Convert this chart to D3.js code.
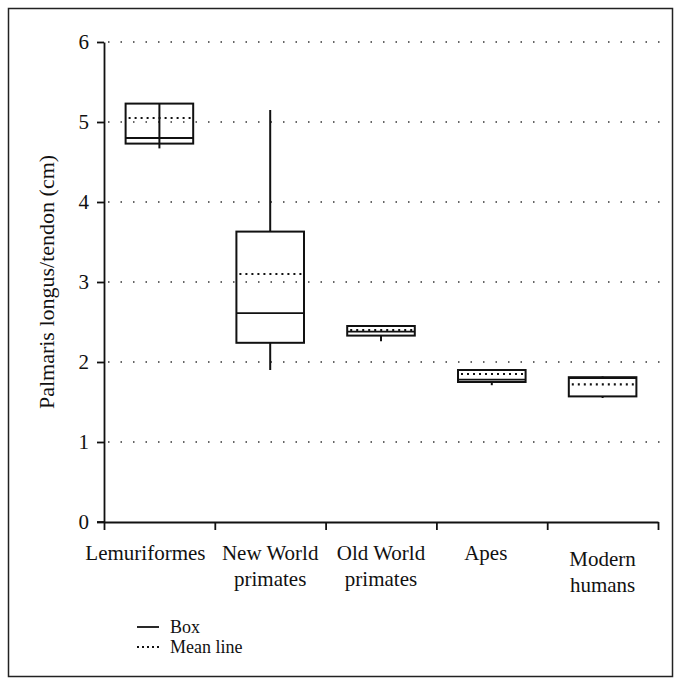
<!DOCTYPE html>
<html>
<head>
<meta charset="utf-8">
<script src="https://cdn.jsdelivr.net/npm/d3@7"></script>
<style>
  body { margin: 0; background: #fff; }
  svg text { font-family: "Liberation Serif", "DejaVu Serif", serif; fill: #111; }
</style>
</head>
<body>
<div id="chart"></div>
<script>
// Groups and their label lines
const groups = ["Lemuriformes", "New World primates", "Old World primates", "Apes", "Modern humans"];
const groupLabels = [["Lemuriformes"], ["New World", "primates"], ["Old World", "primates"], ["Apes"], ["Modern", "humans"]];

// Box plot statistics (cm)
const minVals    = [4.67, 1.90, 2.26, 1.71, 1.55];
const q1Vals     = [4.73, 2.24, 2.33, 1.75, 1.57];
const medianVals = [4.80, 2.61, 2.38, 1.78, 1.80];
const q3Vals     = [5.23, 3.63, 2.45, 1.90, 1.81];
const maxVals    = [5.23, 5.15, 2.45, 1.90, 1.82];
const meanVals   = [5.05, 3.10, 2.40, 1.85, 1.72];

// groups whose whisker line runs straight through the box
const throughLine = ["Lemuriformes"];

const yTicks = [0, 1, 2, 3, 4, 5, 6];
const gridTicks = [1, 2, 3, 4, 5, 6];
const yLabel = "Palmaris longus/tendon (cm)";
const legendItems = ["Box", "Mean line"];

const data = groups.map((g, i) => ({
    group: g, label: groupLabels[i],
    min: minVals[i], q1: q1Vals[i], median: medianVals[i],
    q3: q3Vals[i], max: maxVals[i], mean: meanVals[i]
}));

const W = 680, H = 684;
const margin = { left: 104, right: 22, top: 42, bottom: 162 };
const serif = "'Liberation Serif', 'DejaVu Serif', serif";

const svg = d3.select("#chart").append("svg")
    .attr("width", W).attr("height", H);

// outer frame
svg.append("rect")
    .attr("x", 8.5).attr("y", 8.5)
    .attr("width", 664).attr("height", 668)
    .attr("fill", "none").attr("stroke", "#222").attr("stroke-width", 1.5);

const x = d3.scaleBand()
    .domain(groups)
    .range([margin.left, W - margin.right])
    .paddingInner(0).paddingOuter(0);

const y = d3.scaleLinear()
    .domain([0, 6])
    .range([H - margin.bottom, margin.top]);

// dotted grid
svg.append("g")
    .selectAll("line")
    .data(gridTicks)
    .join("line")
    .attr("x1", margin.left + 4).attr("x2", W - margin.right + 2)
    .attr("y1", d => y(d)).attr("y2", d => y(d))
    .attr("stroke", "#666").attr("stroke-width", 2)
    .attr("stroke-dasharray", "1.5,11");

// y axis
const yAxis = svg.append("g")
    .attr("transform", `translate(${margin.left},0)`)
    .call(d3.axisLeft(y).tickValues(yTicks).tickFormat(d3.format("d")).tickSize(7).tickSizeOuter(0).tickPadding(8));
yAxis.attr("font-family", null);
yAxis.select(".domain").attr("stroke", "#111").attr("stroke-width", 1.8);
yAxis.selectAll(".tick line").attr("stroke", "#111").attr("stroke-width", 1.8);
yAxis.selectAll(".tick text")
    .style("font-family", serif)
    .style("font-size", "21px").attr("fill", "#111");

// x axis with ticks at category boundaries
const bounds = groups.map(g => x(g)).concat([x(groups[groups.length - 1]) + x.bandwidth()]);
const xb = d3.scaleLinear().domain([0, groups.length]).range([bounds[0], bounds[bounds.length - 1]]);
const xAxis = svg.append("g")
    .attr("transform", `translate(0,${y(0)})`)
    .call(d3.axisBottom(xb).tickValues(d3.range(groups.length + 1))
        .tickFormat("").tickSize(8).tickSizeOuter(0));
xAxis.select(".domain").attr("stroke", "#111").attr("stroke-width", 1.8);
xAxis.selectAll(".tick line").attr("stroke", "#111").attr("stroke-width", 1.8);
// small stub left of axis at 0 (like the reference)
svg.append("line")
    .attr("x1", margin.left - 7).attr("x2", margin.left)
    .attr("y1", y(0)).attr("y2", y(0))
    .attr("stroke", "#111").attr("stroke-width", 1.8);

// category labels (first one sits a little left, as in the figure)
const labelShift = { "Lemuriformes": -14, "Apes": -6 };
const labelG = svg.append("g");
data.forEach(d => {
    const cx = x(d.group) + x.bandwidth() / 2 + (labelShift[d.group] || 0);
    const t = labelG.append("text")
        .attr("x", cx)
        .attr("y", y(0) + 38 + (d.group === "Modern humans" ? 6 : 0))
        .attr("text-anchor", "middle")
        .style("font-family", serif)
        .style("font-size", "21px");
    d.label.forEach((line, k) => {
        t.append("tspan")
            .attr("x", cx)
            .attr("dy", k === 0 ? 0 : 26)
            .text(line);
    });
});

// y axis title
svg.append("text")
    .attr("transform", `translate(54,${(y(0) + y(6)) / 2}) rotate(-90)`)
    .attr("text-anchor", "middle")
    .style("font-family", serif)
    .style("font-size", "22px")
    .text(yLabel);

// boxes
const boxW = x.bandwidth() * 0.61;
const boxes = svg.append("g").selectAll("g")
    .data(data)
    .join("g")
    .attr("transform", d => `translate(${x(d.group) + x.bandwidth() / 2},0)`);

// whiskers
boxes.each(function(d) {
    const g = d3.select(this);
    if (throughLine.includes(d.group)) {
        g.append("line").attr("y1", y(d.min)).attr("y2", y(d.max));
    } else {
        g.append("line").attr("y1", y(d.q3)).attr("y2", y(d.max));
        g.append("line").attr("y1", y(d.min)).attr("y2", y(d.q1));
    }
});
boxes.selectAll("line")
    .attr("x1", 0).attr("x2", 0)
    .attr("stroke", "#111").attr("stroke-width", 2);

boxes.append("rect")
    .attr("x", -boxW / 2)
    .attr("y", d => y(d.q3))
    .attr("width", boxW)
    .attr("height", d => y(d.q1) - y(d.q3))
    .attr("fill", "none")
    .attr("stroke", "#111").attr("stroke-width", 2);

boxes.append("line")
    .attr("class", "median")
    .attr("x1", -boxW / 2).attr("x2", boxW / 2)
    .attr("y1", d => y(d.median)).attr("y2", d => y(d.median))
    .attr("stroke", "#111").attr("stroke-width", 1.8);

boxes.append("line")
    .attr("class", "mean")
    .attr("x1", -boxW / 2 + 3).attr("x2", boxW / 2 - 2)
    .attr("y1", d => y(d.mean)).attr("y2", d => y(d.mean))
    .attr("stroke", "#111").attr("stroke-width", 2.2)
    .attr("stroke-dasharray", "2,4");

// legend
const legend = svg.append("g").attr("transform", "translate(137,627)");
legendItems.forEach((name, i) => {
    const ly = i * 20;
    legend.append("line")
        .attr("x1", 0).attr("x2", 22)
        .attr("y1", ly).attr("y2", ly)
        .attr("stroke", "#111").attr("stroke-width", i === 0 ? 1.8 : 2.2)
        .attr("stroke-dasharray", i === 0 ? null : "2,3");
    legend.append("text")
        .attr("x", 33).attr("y", ly)
        .attr("dy", "0.32em")
        .style("font-family", serif)
        .style("font-size", "18px")
        .text(name);
});
</script>
</body>
</html>
